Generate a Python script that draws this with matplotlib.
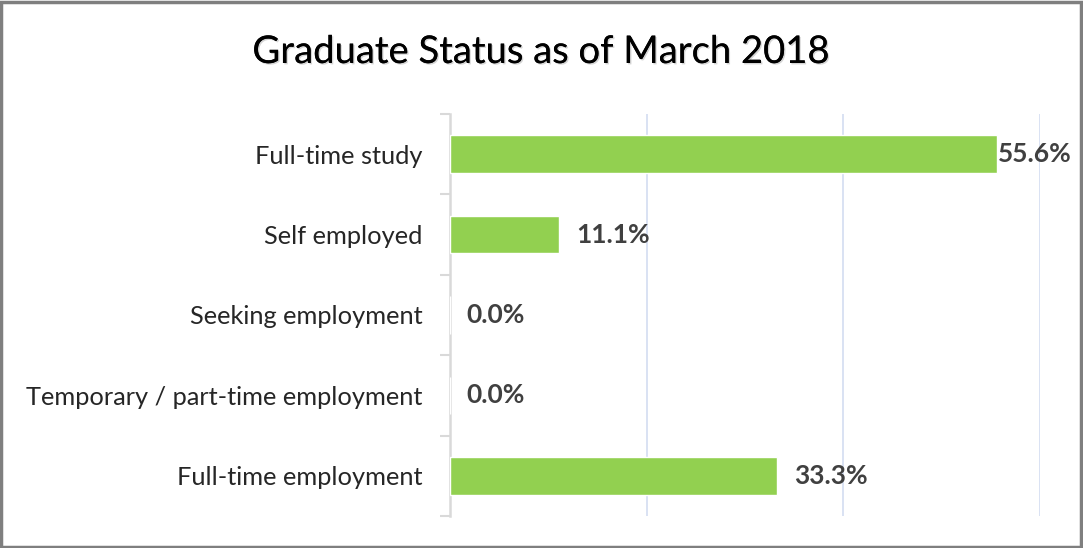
import matplotlib
matplotlib.use("Agg")
import matplotlib.pyplot as plt
import matplotlib.patheffects as pe
from matplotlib.patches import Rectangle

# ── data ──────────────────────────────────────────────────────────────────────
categories = ["Full-time study", "Self employed", "Seeking employment",
              "Temporary / part-time employment", "Full-time employment"]
values = [55.6, 11.1, 0.0, 0.0, 33.3]
x_max = 60
grid_ticks = [0, 20, 40, 60]

BAR_COLOR = "#92D050"
GRID_COLOR = "#D9E2F3"
AXIS_COLOR = "#D9D9D9"

plt.rcParams["font.family"] = ["Lato", "DejaVu Sans"]

fig = plt.figure(figsize=(10.83, 5.48), dpi=100)
fig.patch.set_facecolor("white")
ax = fig.add_axes([450 / 1083, 32 / 548, 590 / 1083, 402 / 548])

ypos = list(range(len(categories)))
ax.barh(ypos, values, height=0.47, color=BAR_COLOR, edgecolor="white",
        linewidth=1.0, zorder=3)

ax.set_xlim(0, x_max)
ax.set_ylim(len(categories) - 0.5, -0.5)

# gridlines
ax.set_xticks(grid_ticks)
ax.tick_params(axis="x", length=0, labelbottom=False)
ax.grid(axis="x", color=GRID_COLOR, linewidth=1.4, zorder=0)

# category boundary ticks + centred labels
ax.set_yticks([i - 0.5 for i in range(len(categories) + 1)])
ax.set_yticklabels([])
ax.tick_params(axis="y", which="major", length=7, width=1.5, color=AXIS_COLOR)
ax.set_yticks(ypos, minor=True)
ax.set_yticklabels(categories, minor=True, fontsize=18.3, color="#262626")
ax.tick_params(axis="y", which="minor", length=0, pad=20)

for s in ["top", "right", "bottom"]:
    ax.spines[s].set_visible(False)
ax.spines["left"].set_color(AXIS_COLOR)
ax.spines["left"].set_linewidth(1.8)

# value labels
for y, v in zip(ypos, values):
    off = 1.0 if v > 50 else 12
    ax.annotate(f"{v:.1f}%", (v, y), xytext=(off, 0), textcoords="offset points",
                va="center", ha="left", fontsize=19, fontweight="bold",
                color="#404040", zorder=4)

# title
fig.text(0.5, 1 - 52 / 548, "Graduate Status as of March 2018", ha="center",
         va="center", fontsize=27.5, color="#000000",
         path_effects=[pe.withSimplePatchShadow(offset=(1, -1), shadow_rgbFace="#888888",
                                                alpha=0.35), pe.Normal()])

# outer border
fig.patches.append(Rectangle((0.001, 0.002), 0.997, 0.995, transform=fig.transFigure,
                             fill=False, edgecolor="#7F7F7F", linewidth=2.5))

fig.savefig("out.png", dpi=100, facecolor="white")
